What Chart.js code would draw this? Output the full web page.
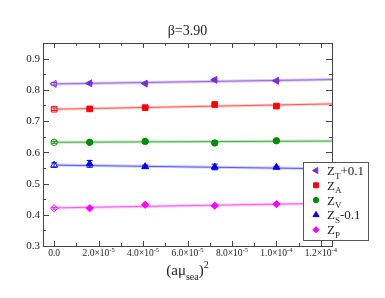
<!DOCTYPE html>
<html>
<head>
<meta charset="utf-8">
<script src="https://cdn.jsdelivr.net/npm/chart.js@4.4.1/dist/chart.umd.min.js"></script>
<style>
  html, body { margin: 0; padding: 0; background: #fff; }
  #c { display: block; }
</style>
</head>
<body>
<canvas id="c" width="385" height="298"></canvas>
<script>
// (a mu_sea)^2 values of the ensembles
const xVals = [0, 1.6e-5, 4.096e-5, 7.225e-5, 1.0e-4];

// renormalisation constants (x = 0 is the chiral extrapolation)
const zT = [0.819, 0.821, 0.820, 0.832, 0.829];
const zA = [0.738, 0.739, 0.743, 0.753, 0.748];
const zV = [0.632, 0.632, 0.635, 0.630, 0.637];
const zS = [0.559, 0.563, 0.554, 0.553, 0.552];
const zP = [0.421, 0.421, 0.432, 0.429, 0.434];

const zTErr = [0.004, 0.002, 0.002, 0.003, 0.002];
const zAErr = [0.004, 0.002, 0.002, 0.002, 0.002];
const zVErr = [0.003, 0.002, 0.002, 0.002, 0.002];
const zSErr = [0.007, 0.011, 0.005, 0.009, 0.003];
const zPErr = [0.003, 0.002, 0.002, 0.002, 0.002];

// linear fits, from x = 0 to the right edge
const fitX = [0, 1.25e-4];
const zTFit = [0.819, 0.833];
const zAFit = [0.738, 0.755];
const zVFit = [0.632, 0.636];
const zSFit = [0.559, 0.547];
const zPFit = [0.422, 0.437];

const xTicks = [0, 2e-5, 4e-5, 6e-5, 8e-5, 1e-4, 1.2e-4];
const xTickMant = ['0.0', '2.0', '4.0', '6.0', '8.0', '1.0', '1.2'];
const xTickExp = ['', '-5', '-5', '-5', '-5', '-4', '-4'];
const yTicks = [0.3, 0.4, 0.5, 0.6, 0.7, 0.8, 0.9];
const yTickLabels = ['0.3', '0.4', '0.5', '0.6', '0.7', '0.8', '0.9'];

const legendMain = ['Z', 'Z', 'Z', 'Z', 'Z'];
const legendSub = ['T', 'A', 'V', 'S', 'P'];
const legendTail = ['+0.1', '', '', '-0.1', ''];

const SERIF = '"Liberation Serif", "Times New Roman", serif';

const series = [
  { y: zT, err: zTErr, fit: zTFit, color: '#7b2cd6', band: 'rgba(155,110,225,0.4)', line: '#9a6ce0', style: 'triangle', rot: -90, r: 4 },
  { y: zA, err: zAErr, fit: zAFit, color: '#ff0000', band: 'rgba(255,60,60,0.25)', line: '#ff5a5a', style: 'rect', rot: 0, r: 4 },
  { y: zV, err: zVErr, fit: zVFit, color: '#008c00', band: 'rgba(40,170,40,0.27)', line: '#4cae4c', style: 'circle', rot: 0, r: 3.2 },
  { y: zS, err: zSErr, fit: zSFit, color: '#0000ff', band: 'rgba(70,70,255,0.27)', line: '#5a5aff', style: 'triangle', rot: 0, r: 4 },
  { y: zP, err: zPErr, fit: zPFit, color: '#ff00ff', band: 'rgba(255,60,255,0.27)', line: '#ff55ff', style: 'rectRot', rot: 0, r: 3.6 }
];

const datasets = [];
series.forEach((s, i) => {
  const fitPts = fitX.map((x, k) => ({ x: x, y: s.fit[k] }));
  datasets.push({ data: fitPts, showLine: true, borderColor: s.band, borderWidth: 3, pointRadius: 0, order: 3 });
  datasets.push({ data: fitPts, showLine: true, borderColor: s.line, borderWidth: 1, pointRadius: 0, order: 2 });
  datasets.push({
    data: xVals.map((x, k) => ({ x: x, y: s.y[k] })),
    showLine: false,
    pointStyle: s.style,
    pointRotation: s.rot,
    pointRadius: s.r,
    pointBorderWidth: 1,
    pointBorderColor: s.color,
    pointBackgroundColor: xVals.map((x, k) => k === 0 ? '#ffffff' : s.color),
    errors: s.err,
    seriesIndex: i,
    order: 1
  });
});

const decorPlugin = {
  id: 'decor',
  afterDatasetsDraw(chart) {
    const ctx = chart.ctx;
    const xs = chart.scales.x, ys = chart.scales.y;
    // error bars
    chart.data.datasets.forEach(ds => {
      if (!ds.errors) return;
      const s = series[ds.seriesIndex];
      ctx.save();
      ctx.strokeStyle = s.color;
      ctx.lineWidth = 1;
      ds.data.forEach((p, k) => {
        const px = xs.getPixelForValue(p.x);
        const y1 = ys.getPixelForValue(p.y - ds.errors[k]);
        const y2 = ys.getPixelForValue(p.y + ds.errors[k]);
        ctx.beginPath();
        ctx.moveTo(px, y1); ctx.lineTo(px, y2);
        ctx.moveTo(px - 3, y1); ctx.lineTo(px + 3, y1);
        ctx.moveTo(px - 3, y2); ctx.lineTo(px + 3, y2);
        ctx.stroke();
      });
      ctx.restore();
    });
  },
  afterDraw(chart) {
    const ctx = chart.ctx;
    const a = chart.chartArea;
    const xs = chart.scales.x, ys = chart.scales.y;
    ctx.save();
    ctx.strokeStyle = '#444';
    ctx.lineWidth = 1;
    ctx.strokeRect(Math.round(a.left) + 0.5, Math.round(a.top) + 0.5, Math.round(a.right - a.left), Math.round(a.bottom - a.top));

    // ticks pointing inward on all four sides
    ctx.beginPath();
    for (let v = 0; v <= 1.2e-4 + 1e-12; v += 1e-5) {
      const major = Math.round(v / 1e-5) % 2 === 0;
      const len = major ? 5 : 3;
      const px = Math.round(xs.getPixelForValue(v)) + 0.5;
      ctx.moveTo(px, a.bottom); ctx.lineTo(px, a.bottom - len);
      ctx.moveTo(px, a.top); ctx.lineTo(px, a.top + len);
    }
    for (let i = 0; i <= 13; i++) {
      const v = 0.3 + i * 0.05;
      const major = i % 2 === 0;
      const len = major ? 6 : 3;
      const py = Math.round(ys.getPixelForValue(v)) + 0.5;
      ctx.moveTo(a.left, py); ctx.lineTo(a.left + len, py);
      ctx.moveTo(a.right, py); ctx.lineTo(a.right - len, py);
    }
    ctx.stroke();

    ctx.fillStyle = '#222';
    // y tick labels
    ctx.font = '11px ' + SERIF;
    ctx.textAlign = 'right';
    ctx.textBaseline = 'middle';
    yTicks.forEach((v, i) => {
      ctx.fillText(yTickLabels[i], a.left - 3, ys.getPixelForValue(v) + 0.5);
    });

    // x tick labels with exponents
    ctx.textAlign = 'left';
    ctx.textBaseline = 'alphabetic';
    xTicks.forEach((v, i) => {
      const main = xTickExp[i] ? xTickMant[i] + '\u00d710' : xTickMant[i];
      ctx.font = '9.5px ' + SERIF;
      const w1 = ctx.measureText(main).width;
      ctx.font = '6.5px ' + SERIF;
      const w2 = xTickExp[i] ? ctx.measureText(xTickExp[i]).width : 0;
      const x0 = xs.getPixelForValue(v) - (w1 + w2) / 2;
      ctx.font = '9.5px ' + SERIF;
      ctx.fillText(main, x0, a.bottom + 10);
      if (xTickExp[i]) {
        ctx.font = '6.5px ' + SERIF;
        ctx.fillText(xTickExp[i], x0 + w1, a.bottom + 5.5);
      }
    });

    // title
    ctx.font = '14px ' + SERIF;
    ctx.textAlign = 'center';
    ctx.fillText('\u03b2=3.90', (a.left + a.right) / 2, 35);

    // x axis title (a mu_sea)^2
    const parts = [
      { t: '(a\u03bc', f: 15, dy: 0 },
      { t: 'sea', f: 10, dy: 5 },
      { t: ')', f: 15, dy: 0 },
      { t: '2', f: 10, dy: -7 }
    ];
    let tw = 0;
    parts.forEach(p => { ctx.font = p.f + 'px ' + SERIF; p.w = ctx.measureText(p.t).width; tw += p.w; });
    let cx = (a.left + a.right) / 2 - tw / 2;
    ctx.textAlign = 'left';
    parts.forEach(p => {
      ctx.font = p.f + 'px ' + SERIF;
      ctx.fillText(p.t, cx, 275 + p.dy);
      cx += p.w;
    });

    // legend
    const lx = 303, ly = 162, lw = 65, lh = 78;
    ctx.fillStyle = '#fff';
    ctx.fillRect(lx, ly, lw, lh);
    ctx.strokeStyle = '#555';
    ctx.strokeRect(lx + 0.5, ly + 0.5, lw, lh);
    series.forEach((s, i) => {
      const yy = 170.5 + i * 14.8;
      ctx.fillStyle = s.color;
      ctx.strokeStyle = s.color;
      Chart.helpers.drawPoint(ctx, { pointStyle: s.style, rotation: s.rot, radius: s.r - 0.5, borderWidth: 1 }, 316, yy);
      ctx.fillStyle = '#222';
      let tx = 327;
      ctx.font = '13px ' + SERIF;
      ctx.fillText(legendMain[i], tx, yy + 4.5);
      tx += ctx.measureText(legendMain[i]).width;
      ctx.font = '9px ' + SERIF;
      ctx.fillText(legendSub[i], tx, yy + 8);
      tx += ctx.measureText(legendSub[i]).width;
      if (legendTail[i]) {
        ctx.font = '13px ' + SERIF;
        ctx.fillText(legendTail[i], tx, yy + 4.5);
      }
    });
    ctx.restore();
  }
};

new Chart(document.getElementById('c'), {
  type: 'scatter',
  data: { datasets: datasets },
  options: {
    responsive: false,
    animation: false,
    layout: { padding: { left: 43, right: 53, top: 43, bottom: 52 } },
    scales: {
      x: { type: 'linear', min: -0.5e-5, max: 1.25e-4, display: false },
      y: { type: 'linear', min: 0.3, max: 0.95, display: false }
    },
    plugins: { legend: { display: false }, tooltip: { enabled: false } }
  },
  plugins: [decorPlugin]
});
</script>
</body>
</html>
